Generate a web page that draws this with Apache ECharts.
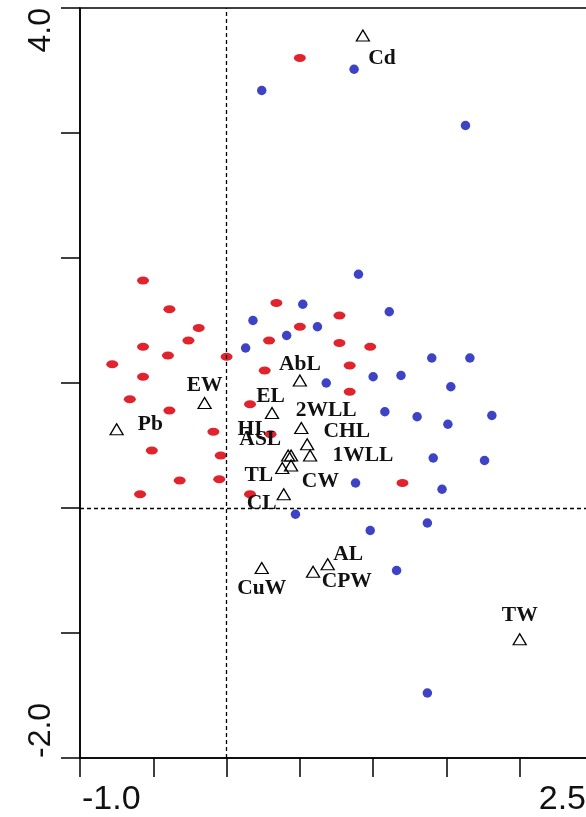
<!DOCTYPE html>
<html>
<head>
<meta charset="utf-8">
<script src="https://cdn.jsdelivr.net/npm/echarts@6/dist/echarts.min.js"></script>
<style>
html,body{margin:0;padding:0;background:#fff;}
#chart{width:586px;height:817px;}
</style>
</head>
<body>
<div id="chart"></div>
<script>
// Group 1 (red points)
const redPoints = [
  [0.50, 3.60], [-0.57, 1.82], [-0.39, 1.59], [-0.19, 1.44], [-0.26, 1.34],
  [-0.57, 1.29], [-0.40, 1.22], [0.00, 1.21], [-0.78, 1.15], [-0.57, 1.05],
  [-0.66, 0.87], [-0.39, 0.78], [0.16, 0.83], [0.26, 1.10], [0.29, 1.34],
  [0.34, 1.64], [0.50, 1.45], [0.77, 1.54], [0.77, 1.32], [0.98, 1.29],
  [0.84, 1.14], [0.84, 0.93], [-0.09, 0.61], [0.30, 0.59], [-0.51, 0.46],
  [-0.04, 0.42], [-0.32, 0.22], [-0.05, 0.23], [-0.59, 0.11], [0.16, 0.11],
  [1.20, 0.20]
];
// Group 2 (blue points)
const bluePoints = [
  [0.87, 3.51], [0.24, 3.34], [1.63, 3.06], [0.90, 1.87], [0.52, 1.63],
  [1.11, 1.57], [0.18, 1.50], [0.62, 1.45], [0.41, 1.38], [0.13, 1.28],
  [1.40, 1.20], [1.66, 1.20], [1.19, 1.06], [1.00, 1.05], [0.68, 1.00],
  [1.53, 0.97], [1.81, 0.74], [1.08, 0.77], [1.30, 0.73], [1.51, 0.67],
  [1.41, 0.40], [1.76, 0.38], [0.88, 0.20], [1.47, 0.15], [0.47, -0.05],
  [1.37, -0.12], [0.98, -0.18], [1.16, -0.50], [1.37, -1.48]
];
// Variables (open triangles) and where their names are written
const varNames = ['Cd', 'Pb', 'EW', 'AbL', 'EL', '2WLL', 'CHL', 'HI', 'ASL', '1WLL', 'TL', 'CW', 'CL', 'AL', 'CPW', 'CuW', 'TW'];
const varX = [0.93, -0.75, -0.15, 0.50, 0.31, 0.51, 0.55, 0.44, 0.42, 0.57, 0.38, 0.44, 0.39, 0.69, 0.59, 0.24, 2.00];
const varY = [3.78, 0.63, 0.84, 1.02, 0.76, 0.64, 0.51, 0.42, 0.42, 0.42, 0.32, 0.34, 0.11, -0.45, -0.51, -0.48, -1.05];
const labelX = [1.06, -0.52, -0.15, 0.50, 0.30, 0.68, 0.82, 0.16, 0.23, 0.93, 0.22, 0.64, 0.24, 0.83, 0.82, 0.24, 2.00];
const labelY = [3.60, 0.67, 0.98, 1.15, 0.89, 0.78, 0.61, 0.63, 0.55, 0.42, 0.26, 0.21, 0.04, -0.37, -0.59, -0.64, -0.86];
// Axes
const xRange = [-1.0, 2.5];
const yRange = [-2.0, 4.0];
const xShownLabels = ['-1.0', '2.5'];
const yShownLabels = ['-2.0', '4.0'];

const chart = echarts.init(document.getElementById('chart'), null, {renderer: 'canvas'});

const tri = varNames.map((n, i) => [varX[i], varY[i], n]);
const labs = varNames.map((n, i) => [labelX[i], labelY[i], n]);

const axisCommon = {
  axisLine: {show: true, onZero: false, lineStyle: {color: '#000', width: 1.5}},
  axisTick: {show: true, length: 19, lineStyle: {color: '#000', width: 1.5}},
  splitLine: {show: false}
};

chart.setOption({
  animation: false,
  backgroundColor: '#fff',
  grid: {left: 80, top: 8, right: -7, bottom: 59, show: true, borderColor: '#000', borderWidth: 1.5, outerBoundsMode: 'none', containLabel: false},
  xAxis: Object.assign({
    type: 'value', min: xRange[0], max: xRange[1], interval: 0.5,
    axisLabel: {
      margin: 25, showMinLabel: true, showMaxLabel: true,
      alignMinLabel: 'left', alignMaxLabel: 'right',
      formatter: v => {
        const s = v.toFixed(1);
        if (s === xShownLabels[0]) return '{a|' + s + '}';
        if (s === xShownLabels[1]) return '{b|' + s + '}';
        return '';
      },
      rich: {
        a: {fontFamily: 'Liberation Sans', fontSize: 34, color: '#111', padding: [0, 0, 0, 2]},
        b: {fontFamily: 'Liberation Sans', fontSize: 34, color: '#111', padding: [0, 7, 0, 0]}
      }
    }
  }, axisCommon),
  yAxis: Object.assign({
    type: 'value', min: yRange[0], max: yRange[1], interval: 1,
    axisLabel: {
      rotate: 90, margin: 23, showMinLabel: true, showMaxLabel: true,
      alignMinLabel: 'left', alignMaxLabel: 'right',
      fontFamily: 'Liberation Sans', fontSize: 32, color: '#111',
      formatter: v => {
        const s = v.toFixed(1);
        return yShownLabels.indexOf(s) >= 0 ? s : '';
      }
    }
  }, axisCommon),
  series: [
    {
      type: 'scatter', name: 'ref', data: [], silent: true,
      markLine: {
        silent: true, symbol: 'none', animation: false,
        label: {show: false},
        lineStyle: {color: '#000', type: [4, 3], width: 1.3},
        data: [{xAxis: 0}, {yAxis: 0}]
      }
    },
    {
      type: 'scatter', name: 'red', data: redPoints,
      symbol: 'circle', symbolSize: [12, 8],
      itemStyle: {color: '#e0232c', opacity: 1}
    },
    {
      type: 'scatter', name: 'blue', data: bluePoints,
      symbol: 'circle', symbolSize: 9.5,
      itemStyle: {color: '#3d43c4', opacity: 1}
    },
    {
      type: 'scatter', name: 'vars', data: tri,
      symbol: 'triangle', symbolSize: [13, 11],
      itemStyle: {color: 'rgba(255,255,255,0)', borderColor: '#000', borderWidth: 1.3, opacity: 1}
    },
    {
      type: 'scatter', name: 'names', data: labs,
      symbol: 'circle', symbolSize: 1, itemStyle: {color: 'rgba(255,255,255,0)'},
      label: {
        show: true, position: 'inside', align: 'center', verticalAlign: 'middle',
        formatter: p => p.data[2],
        fontFamily: 'Liberation Serif', fontWeight: 'bold', fontSize: 21.5,
        color: '#111', textBorderWidth: 0, opacity: 1
      }
    }
  ]
});
</script>
</body>
</html>
